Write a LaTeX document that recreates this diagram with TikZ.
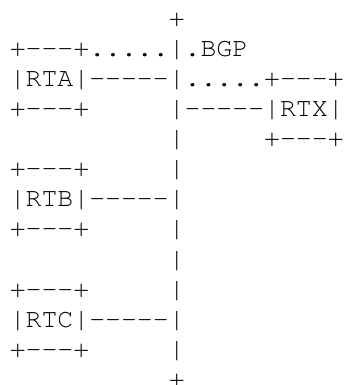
\documentclass[tikz,border=0pt]{standalone}
\usepackage{fontspec}
\setmonofont{TeX Gyre Cursor}
\begin{document}
\begin{tikzpicture}[x=1pt,y=1pt,
  txt/.style={anchor=base west, inner sep=0pt, outer sep=0pt, font=\ttfamily\fontsize{26.5}{30}\selectfont},
  cell/.style 2 args={at={(9.75+15.9*#1, 358.7-30.1*#2)}}]
\useasboundingbox (0,0) rectangle (345,385);
\node[txt, cell={10}{0}] (topplus) {+};
\node[txt, cell={0}{1}] (rowa) {+---+.....|.BGP};
\node[txt, cell={0}{2}] (rta) {|RTA|-----|.....+---+};
\node[txt, cell={0}{3}] (rtabot) {+---+};
\node[txt, cell={10}{3}] (rtx) {|-----|RTX|};
\node[txt, cell={10}{4}] (bar4) {|};
\node[txt, cell={16}{4}] (rtxbot) {+---+};
\node[txt, cell={0}{5}] (rtbtop) {+---+};
\node[txt, cell={10}{5}] (bar5) {|};
\node[txt, cell={0}{6}] (rtb) {|RTB|-----|};
\node[txt, cell={0}{7}] (rtbbot) {+---+};
\node[txt, cell={10}{7}] (bar7) {|};
\node[txt, cell={10}{8}] (bar8) {|};
\node[txt, cell={0}{9}] (rtctop) {+---+};
\node[txt, cell={10}{9}] (bar9) {|};
\node[txt, cell={0}{10}] (rtc) {|RTC|-----|};
\node[txt, cell={0}{11}] (rtcbot) {+---+};
\node[txt, cell={10}{11}] (bar11) {|};
\node[txt, cell={10}{12}] (botplus) {+};
\end{tikzpicture}
\end{document}
